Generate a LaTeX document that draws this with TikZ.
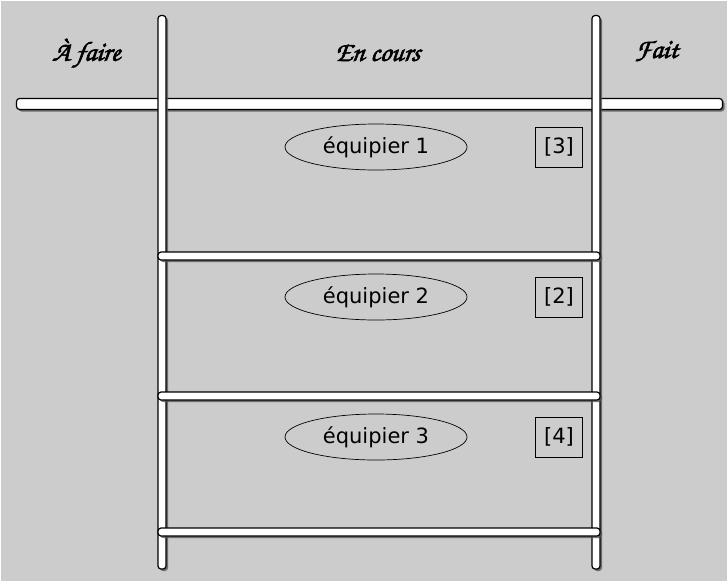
\documentclass[tikz,border=0pt]{standalone}
\usepackage{fontspec}
\newfontfamily\sansf{DejaVu Sans}
\newfontfamily\scriptf[FakeBold=2.2,FakeSlant=0.12]{texgyrechorus-mediumitalic.otf}
\definecolor{bggray}{HTML}{CCCCCC}
\definecolor{shadowgray}{HTML}{555555}
\tikzset{
  barshape/.style={draw=black, line width=1.2pt, fill=white, rounded corners=3pt},
  barshadow/.style={fill=shadowgray, rounded corners=3pt, opacity=0.8},
  title/.style={font=\scriptf\fontsize{27.5}{30}\selectfont, inner sep=0pt},
  member/.style={ellipse, draw=black, line width=0.7pt, minimum width=182pt, minimum height=46pt, inner sep=0pt, font=\sansf\fontsize{21}{24}\selectfont},
  countbox/.style={rectangle, draw=black, line width=0.7pt, minimum width=47pt, minimum height=40pt, inner sep=0pt, font=\sansf\fontsize{21}{24}\selectfont}
}
\usetikzlibrary{shapes.geometric}
\begin{document}
\begin{tikzpicture}[x=1pt,y=-1pt]
\useasboundingbox (0,0) rectangle (727,581);
\fill[white] (0,0) rectangle (727,581);
\fill[bggray] (1,1) rectangle (727,581);
% top horizontal bar
\fill[barshadow] (18.5,100.5) rectangle (724.5,111.5);
\draw[barshape] (16.5,98.5) rectangle (722.5,109.5);
% vertical bars
\fill[barshadow] (160,17.5) rectangle (168,571);
\draw[barshape] (158,15.5) rectangle (166,569);
\fill[barshadow] (594,17.5) rectangle (602,571);
\draw[barshape] (592,15.5) rectangle (600,569);
% inner horizontal bars
\foreach \yy in {252,392,528}{
  \fill[barshadow] (160,\yy+2) rectangle (602,\yy+10);
  \draw[barshape] (158,\yy) rectangle (600,\yy+8);
}
% titles
\node[title] (afaire) at (86,53) {À faire};
\node[title] (encours) at (377,53) {En cours};
\node[title] (fait) at (656,51) {Fait};
% members
\node[member] (m1) at (376,147) {équipier 1};
\node[member] (m2) at (376,297) {équipier 2};
\node[member] (m3) at (376,437) {équipier 3};
\node[countbox] (c1) at (559,147) {[3]};
\node[countbox] (c2) at (559,297) {[2]};
\node[countbox] (c3) at (559,437) {[4]};
\end{tikzpicture}
\end{document}
